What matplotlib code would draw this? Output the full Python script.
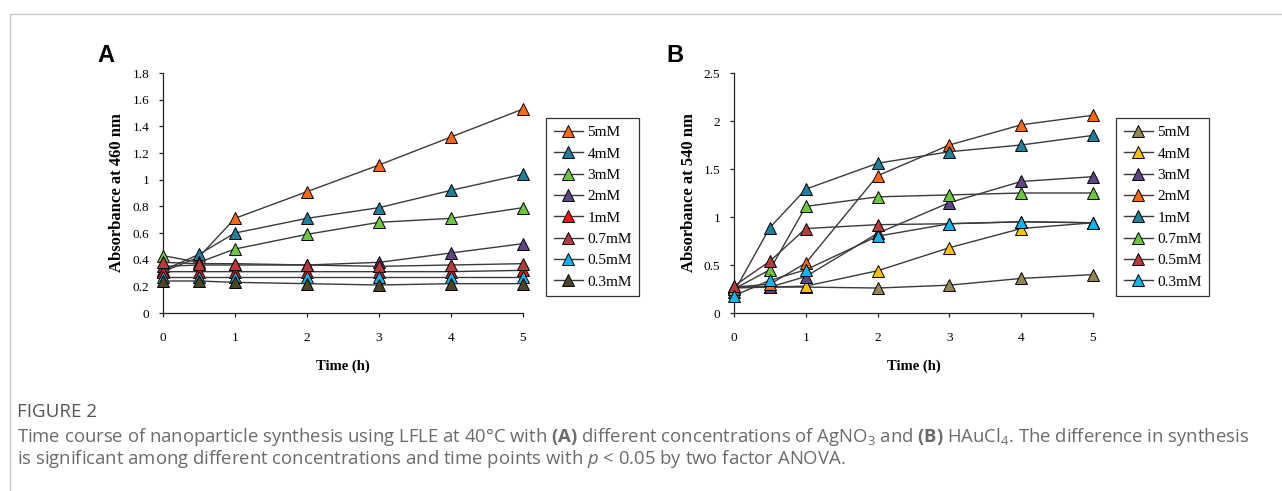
import matplotlib
matplotlib.use("Agg")
import matplotlib.pyplot as plt
from matplotlib.lines import Line2D

# sampling times (h)
time_h = [0, 0.5, 1, 2, 3, 4, 5]

# (A) AgNO3, absorbance at 460 nm
labels_a = ["5mM", "4mM", "3mM", "2mM", "1mM", "0.7mM", "0.5mM", "0.3mM"]
colors_a = ["#FF6A10", "#1F7F9C", "#6CC83A", "#5E4585", "#FF1010",
            "#B8393B", "#13B4EE", "#4A4526"]
ag_5mM = [0.31, 0.42, 0.71, 0.91, 1.11, 1.32, 1.53]
ag_4mM = [0.32, 0.44, 0.60, 0.71, 0.79, 0.92, 1.04]
ag_3mM = [0.43, 0.38, 0.48, 0.59, 0.68, 0.71, 0.79]
ag_2mM = [0.35, 0.36, 0.36, 0.36, 0.38, 0.45, 0.52]
ag_1mM = [0.31, 0.31, 0.31, 0.31, 0.31, 0.31, 0.32]
ag_07mM = [0.38, 0.37, 0.37, 0.36, 0.35, 0.36, 0.37]
ag_05mM = [0.27, 0.27, 0.27, 0.27, 0.27, 0.27, 0.27]
ag_03mM = [0.24, 0.24, 0.23, 0.22, 0.21, 0.22, 0.22]
series_a = [ag_5mM, ag_4mM, ag_3mM, ag_2mM, ag_1mM, ag_07mM, ag_05mM, ag_03mM]

# (B) HAuCl4, absorbance at 540 nm
labels_b = ["5mM", "4mM", "3mM", "2mM", "1mM", "0.7mM", "0.5mM", "0.3mM"]
colors_b = ["#948654", "#FFC000", "#5E4585", "#FF6A10", "#1F7F9C",
            "#6CC83A", "#B8393B", "#13B4EE"]
au_5mM = [0.27, 0.27, 0.27, 0.26, 0.29, 0.36, 0.40]
au_4mM = [0.27, 0.27, 0.28, 0.44, 0.68, 0.88, 0.94]
au_3mM = [0.26, 0.27, 0.38, 0.83, 1.15, 1.37, 1.42]
au_2mM = [0.27, 0.30, 0.52, 1.43, 1.75, 1.96, 2.06]
au_1mM = [0.22, 0.89, 1.29, 1.56, 1.68, 1.75, 1.85]
au_07mM = [0.25, 0.45, 1.11, 1.21, 1.23, 1.25, 1.25]
au_05mM = [0.28, 0.54, 0.88, 0.92, 0.93, 0.95, 0.94]
au_03mM = [0.18, 0.34, 0.45, 0.80, 0.93, 0.95, 0.94]
series_b = [au_5mM, au_4mM, au_3mM, au_2mM, au_1mM, au_07mM, au_05mM, au_03mM]

W, H = 1282, 491
SERIF = "Liberation Serif"
SANS = "Liberation Sans"

plt.rcParams["mathtext.fontset"] = "custom"
plt.rcParams["mathtext.rm"] = "Open Sans"
plt.rcParams["mathtext.it"] = "Open Sans:italic"
plt.rcParams["mathtext.bf"] = "Open Sans:bold"

fig = plt.figure(figsize=(W / 100, H / 100), dpi=100)


def px_axes(x0, y0, x1, y1):
    # axes from pixel box (top-left origin)
    return fig.add_axes([x0 / W, 1 - y1 / H, (x1 - x0) / W, (y1 - y0) / H])


def draw_panel(ax, series, colors, labels, ymax, ystep, ylabel):
    for vals, col, lab in zip(series, colors, labels):
        ax.plot(time_h, vals, color="#3a3a3a", lw=1.0, marker="^", ms=8.5,
                mfc=col, mec="black", mew=0.7, label=lab, clip_on=False,
                zorder=3)
    ax.set_xlim(0, 5)
    ax.set_ylim(0, ymax)
    ax.set_xticks(range(6))
    n = int(round(ymax / ystep))
    yt = [round(i * ystep, 2) for i in range(n + 1)]
    ax.set_yticks(yt)
    ax.set_yticklabels([("%g" % v) for v in yt])
    for s in ["top", "right"]:
        ax.spines[s].set_visible(False)
    for s in ["left", "bottom"]:
        ax.spines[s].set_linewidth(0.9)
        ax.spines[s].set_color("#222222")
    ax.tick_params(direction="out", length=3, width=0.9, labelsize=9.5,
                   color="#222222")
    ax.tick_params(axis="x", pad=11)
    ax.tick_params(axis="y", pad=7)
    for t in ax.get_xticklabels() + ax.get_yticklabels():
        t.set_fontfamily(SERIF)
    ax.set_xlabel("Time (h)", fontfamily=SERIF, fontweight="bold",
                  fontsize=10.5, labelpad=11)
    ax.set_ylabel(ylabel, fontfamily=SERIF, fontweight="bold", fontsize=12,
                  labelpad=5)


ax_a = px_axes(163, 73, 523, 313)
draw_panel(ax_a, series_a, colors_a, labels_a, 1.8, 0.2, "Absorbance at 460 nm")
ax_b = px_axes(734, 73, 1093, 313)
draw_panel(ax_b, series_b, colors_b, labels_b, 2.5, 0.5, "Absorbance at 540 nm")

# legends in their own boxes to the right of each panel
for x0, cols, labs in [(546, colors_a, labels_a), (1116, colors_b, labels_b)]:
    handles = [Line2D([], [], color="#3a3a3a", lw=1.0, marker="^", ms=8.5,
                      mfc=c, mec="black", mew=0.7) for c in cols]
    leg = fig.legend(handles, labs, loc="upper left",
                     bbox_to_anchor=(x0 / W, 1 - 118 / H),
                     prop={"family": SERIF, "size": 11},
                     frameon=True, fancybox=False, borderpad=0.5,
                     handlelength=1.9, handletextpad=0.3, labelspacing=0.5,
                     borderaxespad=0)
    leg.get_frame().set_edgecolor("black")
    leg.get_frame().set_linewidth(0.9)

# panel letters
fig.text(97 / W, 1 - 56 / H, "A", fontfamily=SANS, fontweight="bold",
         fontsize=17, va="center", ha="left")
fig.text(666 / W, 1 - 56 / H, "B", fontfamily=SANS, fontweight="bold",
         fontsize=17, va="center", ha="left")

# thin page border
fig.add_artist(Line2D([9.5 / W, 1], [1 - 13.5 / H, 1 - 13.5 / H],
                      transform=fig.transFigure, color="#c8c8c8", lw=1))
fig.add_artist(Line2D([9.5 / W, 9.5 / W], [0, 1 - 13.5 / H],
                      transform=fig.transFigure, color="#c8c8c8", lw=1))

# caption
cap_col = "#6b6b6b"
fig.text(17 / W, 1 - 412 / H, "FIGURE 2", fontfamily="Open Sans",
         fontsize=13.5, color="#555555", va="center", ha="left")
fig.text(17 / W, 1 - 437 / H,
         r"Time course of nanoparticle synthesis using LFLE at 40°C with "
         r"$\mathbf{(A)}$ different concentrations of AgNO$_3$ and "
         r"$\mathbf{(B)}$ HAuCl$_4$. The difference in synthesis",
         fontfamily="Open Sans", fontsize=13.3, color=cap_col, va="center",
         ha="left")
fig.text(17 / W, 1 - 459 / H,
         r"is significant among different concentrations and time points "
         r"with $p$ < 0.05 by two factor ANOVA.",
         fontfamily="Open Sans", fontsize=13.3, color=cap_col, va="center",
         ha="left")

fig.savefig("out.png", dpi=100)
